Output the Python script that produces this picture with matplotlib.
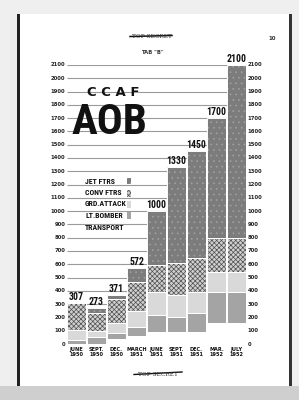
import matplotlib
matplotlib.use("Agg")
import matplotlib.pyplot as plt
from matplotlib.patches import Rectangle
import numpy as np

# ---- data ----
periods = ["JUNE\n1950", "SEPT.\n1950", "DEC.\n1950", "MARCH\n1951", "JUNE\n1951",
           "SEPT.\n1951", "DEC.\n1951", "MAR.\n1952", "JULY\n1952"]
totals = [307, 273, 371, 572, 1000, 1330, 1450, 1700, 2100]
transport = [0, 0, 36, 57, 90, 90, 90, 155, 155]
lt_bomber = [30, 50, 45, 70, 130, 115, 145, 235, 235]
grd_attack = [75, 45, 75, 125, 170, 165, 160, 155, 155]
conv_ftrs = [202, 140, 185, 215, 205, 240, 250, 255, 255]
jet_ftrs = [0, 38, 30, 105, 405, 720, 805, 900, 1300]
y_ticks = list(range(0, 2200, 100))
legend_labels = ["JET FTRS", "CONV FTRS", "GRD.ATTACK", "LT.BOMBER", "TRANSPORT"]

NARROW = ['Roboto Condensed', 'Roboto', 'DejaVu Sans']
W, H = 299, 400

def fx(x):
    return x / W

def fy(y):
    return 1 - y / H

plt.rcParams['hatch.linewidth'] = 0.5

fig = plt.figure(figsize=(2.99, 4.0), dpi=100, facecolor='#efefef')

# page
fig.add_artist(Rectangle((fx(19), fy(386)), fx(272), 372 / H, transform=fig.transFigure,
                         facecolor='white', edgecolor='none', zorder=0))
fig.add_artist(Rectangle((fx(0), fy(400)), 1, 14 / H, transform=fig.transFigure,
                         facecolor='#cfcfcf', edgecolor='none', zorder=0))
fig.add_artist(Rectangle((fx(17), fy(386)), fx(2.5), 372 / H, transform=fig.transFigure,
                         facecolor='#222222', edgecolor='none', zorder=1))
fig.add_artist(Rectangle((fx(289), fy(386)), fx(3), 372 / H, transform=fig.transFigure,
                         facecolor='#333333', edgecolor='none', zorder=1))

ax = fig.add_axes([fx(66.5), fy(344), 180 / W, (344 - 65) / H])
ax.set_xlim(-0.5, 8.5)
ax.set_ylim(0, 2100)
ax.axis('off')
ax.patch.set_alpha(0)

x = np.arange(len(periods))
ax.hlines(y_ticks, -0.5, 8.45, colors='#9a9a9a', linewidth=0.8, zorder=0)

styles = [
    (transport, dict(facecolor='white', hatch=None, hc='white')),
    (lt_bomber, dict(facecolor='#a4a4a4', hatch=None, hc='#a4a4a4')),
    (grd_attack, dict(facecolor='#d9d9d9', hatch=None, hc='#d9d9d9')),
    (conv_ftrs, dict(facecolor='#d0d0d0', hatch='x' * 7, hc='#505050')),
    (jet_ftrs, dict(facecolor='#7c7c7c', hatch='...', hc='#a0a0a0')),
]
bottom = np.zeros(len(x))
bw = 0.95
for vals, st in styles:
    vals = np.array(vals, dtype=float)
    ax.bar(x, vals, bw, bottom=bottom, color=st['facecolor'], edgecolor=st['hc'],
           hatch=st['hatch'], linewidth=0, zorder=2)
    ax.bar(x, vals, bw, bottom=bottom, color='none', edgecolor='white',
           linewidth=0.7, zorder=3)
    bottom += vals

for xi, top, t in zip(x, bottom, totals):
    ax.text(xi, top + 8, str(t), ha='center', va='bottom', fontsize=7,
            fontweight='bold', family=NARROW, color='#111111', zorder=4)

for v in y_ticks:
    ax.text(-0.55, v, str(v), ha='right', va='center', fontsize=3.8,
            fontweight='bold', color='#222222')
    ax.text(8.55, v, str(v), ha='left', va='center', fontsize=3.8,
            fontweight='bold', color='#222222')

for xi, p in zip(x, periods):
    ax.text(xi, -22, p, ha='center', va='top', fontsize=3.6, fontweight='bold',
            linespacing=1.05, color='#111111')

# titles
fig.text(fx(113), fy(92), "C C A F", ha='center', va='center', fontsize=9.5,
         fontweight='heavy', color='#111111')
fig.text(fx(109), fy(123), "AOB", ha='center', va='center', fontsize=31,
         fontweight='bold', family=NARROW, color='#111111')

# legend
leg_y = [181, 193, 204, 216, 227]
sw = [styles[4][1], styles[3][1], styles[2][1], styles[1][1], None]
for lbl, yy, st in zip(legend_labels, leg_y, sw):
    fig.text(fx(85), fy(yy), lbl, ha='left', va='center', fontsize=5.6,
             fontweight='bold', family=NARROW, color='#111111')
    if st is not None:
        r = Rectangle((fx(127), fy(yy + 3.5)), fx(4), 7 / H, transform=fig.transFigure,
                      facecolor=st['facecolor'], edgecolor=st['hc'], hatch=st['hatch'],
                      linewidth=0, zorder=3)
        fig.add_artist(r)

# header / footer
fig.text(fx(152), fy(37), "TOP SECRET", ha='center', va='center', fontsize=4.2,
         family='DejaVu Serif', color='#333333')
fig.add_artist(plt.Line2D([fx(130), fx(172)], [fy(36.5), fy(35.5)], color='#111111',
                          linewidth=1.1, transform=fig.transFigure))
fig.text(fx(272), fy(38), "10", ha='center', va='center', fontsize=4, fontweight='bold',
         color='#333333')
fig.text(fx(152), fy(53), 'TAB "B"', ha='center', va='center', fontsize=3.8,
         fontweight='bold', color='#333333')
fig.text(fx(158), fy(374), "TOP SECRET", ha='center', va='center', fontsize=4.2,
         family='DejaVu Serif', color='#333333')
fig.add_artist(plt.Line2D([fx(134), fx(182)], [fy(374.5), fy(372)], color='#111111',
                          linewidth=1.0, transform=fig.transFigure))

fig.savefig("out.png", dpi=100, facecolor=fig.get_facecolor())
